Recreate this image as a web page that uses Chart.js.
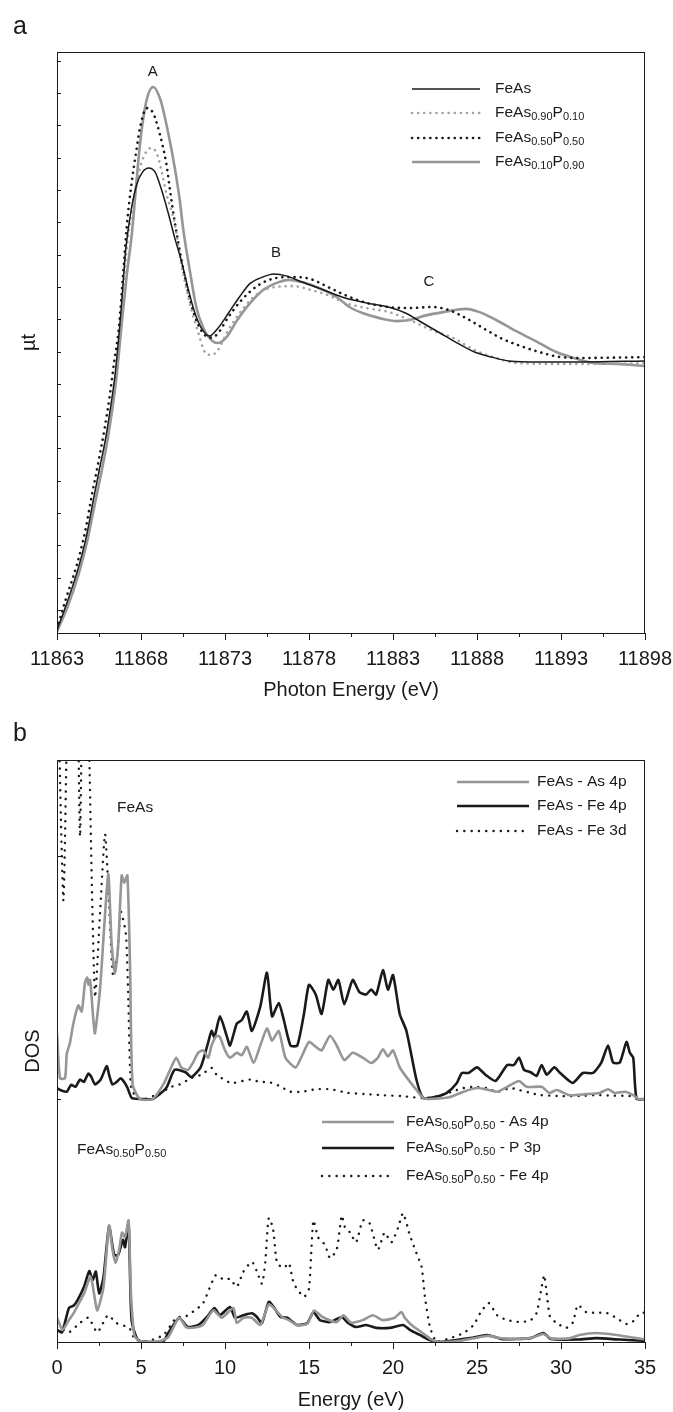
<!DOCTYPE html>
<html>
<head>
<meta charset="utf-8">
<script src="https://cdn.jsdelivr.net/npm/chart.js@4.4.1/dist/chart.umd.min.js"></script>
<style>
  html, body { margin: 0; padding: 0; background: #fff; }
  canvas { position: absolute; left: 0; }
  #xanes { top: 0; }
  #dos { top: 705px; }
</style>
</head>
<body>
<canvas id="xanes" width="673" height="705"></canvas>
<canvas id="dos" width="673" height="707"></canvas>
<script>
// ---- panel a : Fe K-edge XANES, [photon energy (eV), normalised µt]
const feAs = [
  [11863.0,0.011],[11863.59,0.111],[11864.23,0.232],[11864.74,0.354],[11865.13,0.48],[11865.51,0.60],
  [11865.9,0.72],[11866.23,0.85],[11866.45,0.95],[11866.8,1.18],[11867.1,1.42],[11867.44,1.57],
  [11867.77,1.66],[11868.08,1.70],[11868.46,1.716],[11868.85,1.70],[11869.2,1.64],[11869.62,1.55],
  [11870.0,1.46],[11870.39,1.376],[11870.78,1.277],[11871.16,1.19],[11871.55,1.13],[11872.06,1.096],
  [11872.58,1.125],[11873.2,1.18],[11873.86,1.24],[11874.5,1.29],[11875.27,1.314],[11875.9,1.325],
  [11876.69,1.317],[11877.58,1.295],[11878.87,1.266],[11880.15,1.236],[11881.43,1.218],[11882.72,1.203],
  [11883.74,1.181],[11884.77,1.144],[11885.8,1.107],[11886.83,1.07],[11887.85,1.037],[11888.88,1.018],
  [11889.9,1.004],[11891.7,1.0],[11894.27,1.0],[11898.0,1.004]
];
const feAs90P10 = [
  [11863.0,0.008],[11863.6,0.105],[11864.25,0.225],[11864.76,0.345],[11865.15,0.47],[11865.53,0.59],
  [11865.92,0.71],[11866.25,0.84],[11866.5,0.95],[11866.82,1.17],[11867.12,1.40],[11867.45,1.56],
  [11867.82,1.68],[11868.08,1.745],[11868.6,1.79],[11868.98,1.764],[11869.24,1.70],[11869.5,1.624],
  [11870.0,1.513],[11870.39,1.365],[11870.9,1.218],[11871.42,1.107],[11871.8,1.037],[11872.19,1.026],
  [11872.58,1.044],[11873.2,1.118],[11873.99,1.19],[11875.0,1.255],[11876.04,1.277],[11877.07,1.28],
  [11878.1,1.266],[11879.12,1.247],[11880.15,1.218],[11881.43,1.199],[11882.72,1.185],[11884.0,1.155],
  [11885.29,1.118],[11886.57,1.089],[11887.85,1.044],[11889.14,1.015],[11890.42,0.996],[11892.99,0.993],
  [11895.56,0.993],[11898.0,0.996]
];
const feAs50P50 = [
  [11863.0,0.015],[11863.5,0.12],[11864.15,0.245],[11864.66,0.37],[11865.05,0.50],[11865.43,0.62],
  [11865.82,0.75],[11866.15,0.88],[11866.4,1.0],[11866.67,1.12],[11866.93,1.32],[11867.15,1.5],
  [11867.44,1.66],[11867.7,1.77],[11867.95,1.867],[11868.34,1.937],[11868.72,1.919],[11869.1,1.845],
  [11869.5,1.734],[11869.75,1.624],[11870.0,1.52],[11870.4,1.38],[11870.8,1.26],[11871.2,1.17],
  [11871.6,1.115],[11872.1,1.09],[11872.5,1.1],[11873.2,1.166],[11873.99,1.229],[11875.0,1.284],
  [11876.04,1.31],[11877.07,1.314],[11878.1,1.306],[11879.12,1.277],[11880.15,1.247],[11881.43,1.218],
  [11882.72,1.203],[11884.0,1.199],[11885.29,1.203],[11886.31,1.192],[11887.34,1.162],[11888.37,1.125],
  [11889.39,1.089],[11890.42,1.063],[11891.71,1.037],[11892.99,1.018],[11894.27,1.015],[11898.0,1.018]
];
const feAs10P90 = [
  [11863.0,0.005],[11863.65,0.10],[11864.3,0.22],[11864.8,0.34],[11865.2,0.46],[11865.6,0.58],
  [11866.0,0.71],[11866.3,0.83],[11866.55,0.95],[11866.85,1.14],[11867.15,1.32],[11867.45,1.47],
  [11867.64,1.60],[11867.95,1.81],[11868.29,1.955],[11868.72,2.015],[11869.16,1.967],[11869.62,1.845],
  [11870.0,1.72],[11870.3,1.60],[11870.52,1.487],[11870.9,1.34],[11871.29,1.203],[11871.68,1.13],
  [11872.19,1.081],[11872.58,1.07],[11873.09,1.092],[11873.73,1.155],[11874.5,1.218],[11875.27,1.266],
  [11876.04,1.291],[11876.81,1.303],[11877.58,1.295],[11878.6,1.273],[11879.64,1.24],[11880.4,1.203],
  [11881.18,1.181],[11882.2,1.162],[11883.23,1.151],[11884.0,1.155],[11885.03,1.173],[11886.06,1.185],
  [11887.34,1.196],[11888.11,1.185],[11889.14,1.155],[11890.42,1.111],[11891.71,1.07],[11892.73,1.037],
  [11893.76,1.015],[11895.04,0.996],[11896.33,0.993],[11898.0,0.985]
];
const photonTicks = [11863, 11868, 11873, 11878, 11883, 11888, 11893, 11898];

// ---- panel b : partial DOS, [energy (eV), DOS]
// FeAs set is drawn one unit higher (own axis), FeAs0.50P0.50 on the bottom one
const feAsAs4p = [
  [0,0.27],[0.18,0.085],[0.48,0.086],[0.58,0.185],[0.77,0.23],[0.97,0.31],[1.27,0.385],[1.47,0.36],
  [1.67,0.48],[1.8,0.5],[1.87,0.47],[1.97,0.49],[2.16,0.33],[2.26,0.27],[2.56,0.45],[2.86,0.76],
  [3.06,0.925],[3.25,0.64],[3.45,0.515],[3.65,0.64],[3.85,0.92],[4.0,0.89],[4.19,0.92],[4.35,0.54],
  [4.5,0.06],[4.94,0.0],[5.7,0.0],[6.33,0.06],[6.73,0.12],[7.1,0.17],[7.4,0.13],[7.8,0.12],[8.1,0.15],
  [8.4,0.19],[8.7,0.2],[9.0,0.17],[9.2,0.22],[9.5,0.26],[9.7,0.255],[10.0,0.2],[10.3,0.17],[10.7,0.19],
  [11.0,0.18],[11.3,0.215],[11.7,0.148],[12.1,0.22],[12.5,0.29],[12.8,0.24],[13.2,0.28],[13.6,0.17],
  [14.2,0.13],[14.6,0.18],[15.0,0.235],[15.4,0.215],[15.75,0.2],[16.25,0.26],[16.65,0.22],[17.1,0.16],
  [17.6,0.19],[18.2,0.17],[18.7,0.148],[19.1,0.17],[19.4,0.205],[19.7,0.175],[20.0,0.2],[20.4,0.13],
  [20.8,0.09],[21.4,0.037],[21.8,0.004],[22.2,0.0],[23.4,0.008],[24.2,0.03],[25.0,0.045],[25.7,0.037],
  [26.2,0.03],[26.8,0.05],[27.5,0.074],[27.95,0.05],[28.85,0.05],[29.3,0.025],[29.75,0.037],[30.5,0.016],
  [31.5,0.02],[32.3,0.025],[32.8,0.04],[33.2,0.025],[33.8,0.03],[34.3,0.016],[34.6,0.0],[35,0.0]
];
const feAsFe4p = [
  [0,0.045],[0.2,0.037],[0.58,0.03],[0.84,0.058],[1.1,0.05],[1.37,0.08],[1.6,0.07],[1.87,0.105],
  [2.05,0.09],[2.26,0.06],[2.6,0.08],[2.96,0.135],[3.1,0.1],[3.3,0.06],[3.55,0.07],[3.78,0.085],
  [4.0,0.07],[4.2,0.045],[4.45,0.004],[5.0,0],[5.7,0],[6.5,0.045],[7.0,0.12],[7.65,0.11],[8.0,0.09],
  [8.55,0.13],[8.93,0.215],[9.2,0.28],[9.37,0.255],[9.7,0.34],[10.1,0.26],[10.3,0.22],[10.7,0.31],
  [11.0,0.325],[11.3,0.36],[11.6,0.28],[12.1,0.38],[12.5,0.52],[12.8,0.34],[13.2,0.395],[13.5,0.325],
  [13.9,0.22],[14.3,0.22],[14.7,0.35],[15.0,0.47],[15.4,0.43],[15.75,0.35],[16.15,0.49],[16.45,0.45],
  [16.75,0.49],[17.1,0.39],[17.6,0.49],[18.0,0.44],[18.4,0.43],[18.7,0.45],[19.0,0.43],[19.4,0.53],
  [19.7,0.45],[20.0,0.51],[20.4,0.35],[20.8,0.28],[21.4,0.078],[21.8,0.004],[22.6,0.01],[23.2,0.025],
  [23.8,0.066],[24.1,0.107],[24.5,0.107],[25.0,0.13],[25.5,0.1],[26.1,0.074],[26.8,0.14],[27.2,0.14],
  [27.5,0.17],[27.8,0.12],[28.2,0.11],[28.55,0.095],[28.85,0.14],[29.15,0.1],[29.6,0.13],[29.95,0.107],
  [30.7,0.066],[31.3,0.107],[31.9,0.107],[32.4,0.15],[32.8,0.22],[33.1,0.15],[33.5,0.15],[33.9,0.235],
  [34.1,0.19],[34.3,0.17],[34.5,0.0],[35,0]
];
const feAsFe3d = [
  [0,1.9],[0.12,1.5],[0.38,0.816],[0.58,1.5],[0.75,2.2],[1.1,2.2],[1.37,1.08],[1.55,2.0],[1.75,2.4],
  [1.93,1.4],[2.26,0.42],[2.55,0.75],[2.86,1.09],[3.1,0.8],[3.33,0.51],[3.6,0.6],[3.8,0.77],[4.1,0.68],
  [4.25,0.4],[4.4,0.05],[4.7,0.01],[5.2,0.0],[6.0,0.02],[6.8,0.05],[7.3,0.06],[8.0,0.086],[8.6,0.1],
  [9.2,0.128],[9.5,0.1],[10.2,0.07],[10.5,0.066],[11.5,0.08],[12.1,0.07],[12.6,0.07],[13.2,0.055],
  [13.9,0.03],[14.6,0.03],[15.4,0.04],[16.3,0.04],[17.3,0.025],[18.4,0.02],[19.5,0.015],[20.5,0.012],
  [21.8,0.004],[22.6,0.01],[23.8,0.037],[24.2,0.045],[24.8,0.05],[25.6,0.045],[26.2,0.03],[27.0,0.045],
  [27.5,0.037],[28.2,0.025],[28.75,0.016],[30.0,0.012],[31.1,0.012],[32.1,0.016],[33.0,0.014],
  [34.1,0.012],[34.8,0.0],[35,0]
];
const mixAs4p = [
  [0,0.1],[0.33,0.05],[0.71,0.09],[1.0,0.12],[1.23,0.15],[1.61,0.2],[2.0,0.27],[2.2,0.2],[2.4,0.13],
  [2.77,0.227],[3.1,0.48],[3.3,0.38],[3.49,0.325],[3.7,0.38],[3.87,0.45],[4.05,0.43],[4.26,0.50],
  [4.4,0.2],[4.6,0.03],[4.82,0.008],[5.5,0],[6.2,0.005],[6.62,0.02],[7.27,0.1],[7.7,0.06],[8.2,0.06],
  [8.68,0.07],[9.3,0.13],[9.8,0.1],[10.5,0.14],[10.7,0.078],[11.1,0.1],[11.6,0.1],[12.1,0.07],
  [12.6,0.155],[12.9,0.14],[13.4,0.103],[13.8,0.09],[14.3,0.07],[14.9,0.075],[15.3,0.13],[15.8,0.103],
  [16.65,0.082],[17.05,0.11],[17.5,0.08],[18.2,0.09],[18.8,0.11],[19.4,0.09],[20.1,0.1],[20.5,0.123],
  [20.7,0.1],[21.1,0.07],[21.7,0.04],[22.3,0.01],[22.8,0],[24.0,0.005],[25.6,0.025],[26.5,0.015],
  [28.2,0.016],[28.95,0.033],[29.4,0.015],[30.5,0.015],[31.1,0.029],[32.1,0.037],[33.3,0.029],
  [34.5,0.016],[35,0.01]
];
const mixP3p = [
  [0,0.05],[0.3,0.04],[0.71,0.14],[1.0,0.15],[1.23,0.173],[1.61,0.227],[1.92,0.292],[2.13,0.255],
  [2.31,0.29],[2.51,0.2],[2.77,0.268],[3.1,0.475],[3.41,0.357],[3.65,0.36],[3.92,0.42],[4.05,0.39],
  [4.26,0.49],[4.44,0.09],[4.82,0.008],[5.5,0],[6.3,0],[6.62,0.037],[7.27,0.099],[7.78,0.062],
  [8.42,0.07],[8.93,0.103],[9.37,0.14],[9.7,0.111],[10.3,0.144],[10.6,0.1],[11.1,0.11],[11.6,0.118],
  [11.9,0.103],[12.2,0.078],[12.6,0.165],[12.9,0.144],[13.3,0.103],[13.7,0.1],[14.3,0.07],[14.9,0.078],
  [15.26,0.123],[15.65,0.09],[16.25,0.082],[16.95,0.103],[17.3,0.08],[17.8,0.062],[18.4,0.07],
  [19.0,0.058],[19.8,0.058],[20.6,0.07],[21.0,0.05],[21.6,0.029],[22.2,0.008],[22.8,0],[24.6,0.016],
  [25.6,0.029],[26.5,0.012],[28.2,0.016],[28.95,0.037],[29.4,0.012],[31.0,0.01],[32.1,0.016],
  [33.5,0.01],[35,0.005]
];
const mixFe4p = [
  [0,0.06],[0.2,0.058],[0.7,0.04],[1.36,0.078],[1.87,0.1],[2.4,0.04],[3.03,0.11],[3.54,0.078],
  [4.3,0.058],[4.57,0.02],[5.2,0],[6.35,0.03],[7.1,0.1],[7.65,0.105],[8.2,0.13],[8.7,0.16],[9.45,0.275],
  [9.96,0.255],[10.3,0.26],[10.7,0.227],[11.1,0.29],[11.6,0.33],[11.9,0.29],[12.2,0.24],[12.4,0.33],
  [12.6,0.51],[12.85,0.47],[13.1,0.325],[13.5,0.305],[13.8,0.325],[14.1,0.24],[14.7,0.186],[15.0,0.22],
  [15.26,0.50],[15.55,0.43],[15.95,0.40],[16.25,0.345],[16.65,0.38],[16.95,0.52],[17.15,0.47],
  [17.45,0.45],[17.8,0.41],[18.2,0.50],[18.6,0.49],[19.1,0.38],[19.5,0.45],[19.9,0.41],[20.3,0.47],
  [20.6,0.53],[21.0,0.44],[21.4,0.365],[21.7,0.31],[21.9,0.186],[22.2,0.062],[22.6,0],[23.4,0.016],
  [24.2,0.037],[24.8,0.07],[25.2,0.12],[25.7,0.16],[26.2,0.11],[26.8,0.09],[27.6,0.082],[28.2,0.09],
  [28.55,0.12],[28.85,0.227],[29.0,0.275],[29.15,0.2],[29.35,0.103],[29.75,0.078],[30.3,0.058],
  [30.7,0.08],[31.0,0.152],[31.5,0.123],[32.1,0.12],[32.7,0.12],[33.3,0.099],[33.9,0.074],[34.4,0.09],
  [34.7,0.12],[35,0.12]
];

const INK = '#1a1a1a';
const GREY = '#969696';
const FONT = '"Liberation Sans", Arial, Helvetica, sans-serif';

const pts = pairs => pairs.map(([x, y]) => ({x: x, y: y}));

// "FeAs_{0.50}P_{0.50}" -> [[text, isSub], ...]
function splitSub(s) {
  const out = [];
  const re = /_\{([^}]*)\}/g;
  let last = 0, m;
  while ((m = re.exec(s))) {
    if (m.index > last) out.push([s.slice(last, m.index), false]);
    out.push([m[1], true]);
    last = re.lastIndex;
  }
  if (last < s.length) out.push([s.slice(last), false]);
  return out;
}

function richText(ctx, s, x, y, size, align) {
  const segs = splitSub(s);
  const sub = Math.round(size * 0.74);
  let total = 0;
  segs.forEach(([t, isSub]) => {
    ctx.font = (isSub ? sub : size) + 'px ' + FONT;
    total += ctx.measureText(t).width;
  });
  let cx = align === 'center' ? x - total / 2 : x;
  ctx.textAlign = 'left';
  ctx.textBaseline = 'middle';
  segs.forEach(([t, isSub]) => {
    ctx.font = (isSub ? sub : size) + 'px ' + FONT;
    ctx.fillText(t, cx, isSub ? y + size * 0.27 : y);
    cx += ctx.measureText(t).width;
  });
}

// frame, minor / inner ticks, legends and notes
const decor = {
  id: 'decor',
  afterDraw(chart, args, o) {
    const ctx = chart.ctx;
    const a = chart.chartArea;
    const xs = chart.scales.x, ys = chart.scales.y;
    ctx.save();
    ctx.strokeStyle = INK;
    ctx.lineWidth = 1;
    ctx.setLineDash([]);
    ctx.strokeRect(a.left + 0.5, a.top + 0.5, a.right - a.left - 1, a.bottom - a.top);
    ctx.beginPath();
    o.minorX.forEach(v => {
      const px = Math.round(xs.getPixelForValue(v)) + 0.5;
      ctx.moveTo(px, a.bottom);
      ctx.lineTo(px, a.bottom + 4);
    });
    o.innerY.forEach(v => {
      const py = Math.round(ys.getPixelForValue(v)) + 0.5;
      ctx.moveTo(a.left, py);
      ctx.lineTo(a.left + 4, py);
    });
    ctx.stroke();

    ctx.fillStyle = INK;
    o.legends.forEach(L => {
      L.datasets.forEach((di, i) => {
        const ds = chart.data.datasets[di];
        const y = L.rows[i];
        ctx.save();
        ctx.strokeStyle = ds.borderColor;
        ctx.lineWidth = ds.borderWidth;
        ctx.lineCap = ds.borderCapStyle || 'butt';
        ctx.setLineDash(ds.borderDash || []);
        ctx.beginPath();
        ctx.moveTo(L.x1, y);
        ctx.lineTo(L.x2, y);
        ctx.stroke();
        ctx.restore();
        richText(ctx, ds.label, L.tx, y, 15.5, 'left');
      });
    });

    o.notes.forEach(n => {
      const x = n.data ? xs.getPixelForValue(n.x) : n.x;
      const y = n.data ? ys.getPixelForValue(n.y) : n.y;
      richText(ctx, n.text, x, y, n.size, n.align);
    });

    ctx.font = '25px ' + FONT;
    ctx.textAlign = 'left';
    ctx.textBaseline = 'alphabetic';
    ctx.fillText(o.letter, 13, o.letterY);
    ctx.restore();
  }
};

const axisFont = {family: FONT, size: 20};

function xAxis(min, max, title, height, titlePad, tickList) {
  return {
    type: 'linear', min: min, max: max,
    afterBuildTicks: s => { s.ticks = tickList.map(v => ({value: v})); },
    afterFit: s => { s.height = height; s.paddingLeft = 0; s.paddingRight = 0; },
    ticks: {callback: v => String(v), color: INK, font: axisFont, padding: 7, maxRotation: 0, autoSkip: false},
    grid: {display: true, drawOnChartArea: false, drawTicks: true, tickLength: 7, color: INK, lineWidth: 1},
    border: {display: false},
    title: {display: true, text: title, color: INK, font: axisFont, padding: {top: 0, bottom: titlePad}}
  };
}

function yAxis(min, max, title, titlePad) {
  return {
    min: min, max: max,
    afterFit: s => { s.width = 57; },
    ticks: {display: false},
    grid: {display: false},
    border: {display: false},
    title: {display: true, text: title, color: INK, font: axisFont, padding: {top: titlePad, bottom: 0}}
  };
}

const muTicks = [];
for (let t = 0.085; t < 2.14; t += 0.1192) muTicks.push(t);

const dotsA = {borderDash: [0.1, 6], borderCapStyle: 'round'};
const dotsB = {borderDash: [0.1, 7.2], borderCapStyle: 'round'};

new Chart(document.getElementById('xanes'), {
  type: 'line',
  data: {
    datasets: [
      {label: 'FeAs', data: pts(feAs), borderColor: INK, borderWidth: 1.5},
      Object.assign({label: 'FeAs_{0.90}P_{0.10}', data: pts(feAs90P10), borderColor: '#a4a4a4', borderWidth: 2.6}, dotsA),
      Object.assign({label: 'FeAs_{0.50}P_{0.50}', data: pts(feAs50P50), borderColor: INK, borderWidth: 2.6}, dotsA),
      {label: 'FeAs_{0.10}P_{0.90}', data: pts(feAs10P90), borderColor: GREY, borderWidth: 2.6}
    ]
  },
  options: {
    responsive: false,
    animation: false,
    events: [],
    layout: {padding: {top: 52, right: 28, bottom: 0, left: 0}},
    elements: {point: {radius: 0}, line: {cubicInterpolationMode: 'monotone', fill: false}},
    scales: {
      x: xAxis(11863, 11898, 'Photon Energy (eV)', 72, 3, photonTicks),
      y: yAxis(0, 2.144, 'µt', 17)
    },
    plugins: {
      legend: {display: false},
      tooltip: {enabled: false},
      decor: {
        minorX: [11865.5, 11870.5, 11875.5, 11880.5, 11885.5, 11890.5, 11895.5],
        innerY: muTicks,
        legends: [{datasets: [0, 1, 2, 3], x1: 412, x2: 480, tx: 495, rows: [89, 113, 138, 162]}],
        notes: [
          {text: 'A', data: true, x: 11868.7, y: 2.07, size: 15, align: 'center'},
          {text: 'B', data: true, x: 11876.04, y: 1.402, size: 15, align: 'center'},
          {text: 'C', data: true, x: 11885.14, y: 1.295, size: 15, align: 'center'}
        ],
        letter: 'a', letterY: 34
      }
    }
  },
  plugins: [decor]
});

const dosLine = {tension: 0.2, borderJoinStyle: 'round'};

new Chart(document.getElementById('dos'), {
  type: 'line',
  data: {
    datasets: [
      Object.assign({label: 'FeAs - As 4p', data: pts(feAsAs4p), yAxisID: 'yUp', borderColor: GREY, borderWidth: 2.6}, dosLine),
      Object.assign({label: 'FeAs - Fe 4p', data: pts(feAsFe4p), yAxisID: 'yUp', borderColor: INK, borderWidth: 2.6}, dosLine),
      Object.assign({label: 'FeAs - Fe 3d', data: pts(feAsFe3d), yAxisID: 'yUp', borderColor: INK, borderWidth: 2.4}, dosLine, dotsB),
      Object.assign({label: 'FeAs_{0.50}P_{0.50} - As 4p', data: pts(mixAs4p), yAxisID: 'y', borderColor: GREY, borderWidth: 2.6}, dosLine),
      Object.assign({label: 'FeAs_{0.50}P_{0.50} - P 3p', data: pts(mixP3p), yAxisID: 'y', borderColor: INK, borderWidth: 2.6}, dosLine),
      Object.assign({label: 'FeAs_{0.50}P_{0.50} - Fe 4p', data: pts(mixFe4p), yAxisID: 'y', borderColor: INK, borderWidth: 2.4}, dosLine, dotsB)
    ]
  },
  options: {
    responsive: false,
    animation: false,
    events: [],
    layout: {padding: {top: 55, right: 28, bottom: 0, left: 0}},
    elements: {point: {radius: 0}, line: {fill: false}},
    scales: {
      x: xAxis(0, 35, 'Energy (eV)', 70, 0, [0, 5, 10, 15, 20, 25, 30, 35]),
      y: yAxis(0, 2.395, 'DOS', 21),
      yUp: {display: false, min: -1, max: 1.395}
    },
    plugins: {
      legend: {display: false},
      tooltip: {enabled: false},
      decor: {
        minorX: [2.5, 7.5, 12.5, 17.5, 22.5, 27.5, 32.5],
        innerY: [1, 2],
        legends: [
          {datasets: [0, 1, 2], x1: 457, x2: 529, tx: 537, rows: [77, 101, 126]},
          {datasets: [3, 4, 5], x1: 322, x2: 394, tx: 406, rows: [417, 443, 471]}
        ],
        notes: [
          {text: 'FeAs', x: 117, y: 103, size: 15.5},
          {text: 'FeAs_{0.50}P_{0.50}', x: 77, y: 445, size: 15.5}
        ],
        letter: 'b', letterY: 36
      }
    }
  },
  plugins: [decor]
});
</script>
</body>
</html>
